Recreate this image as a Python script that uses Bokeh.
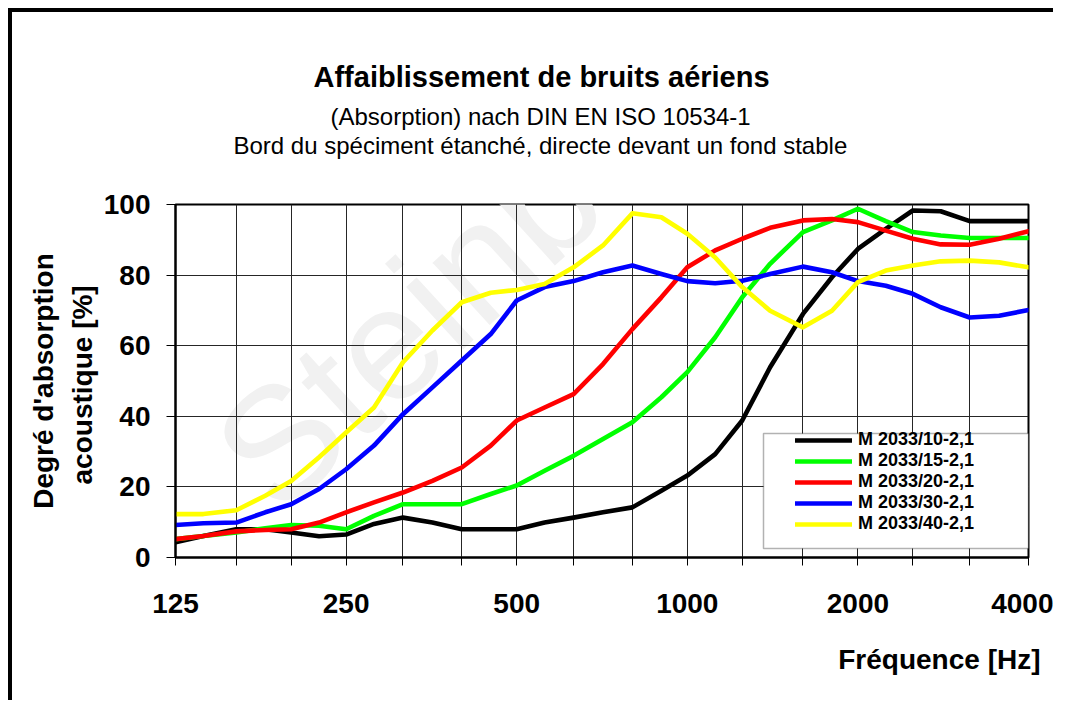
from bokeh.plotting import figure
from bokeh.models import FixedTicker, Label, BoxAnnotation, Legend, LegendItem, Title
from bokeh.embed import file_html
from bokeh.resources import INLINE

# ---- data ----
freq = [125, 140, 160, 180, 200, 224, 250, 280, 315, 355, 400, 450, 500, 560, 630,
        710, 800, 900, 1000, 1120, 1250, 1400, 1600, 1800, 2000, 2240, 2500, 2800,
        3150, 3550, 4000]
m10 = [4.3, 6.1, 8.0, 8.0, 7.1, 6.0, 6.5, 9.5, 11.3, 9.9, 8.0, 8.0, 8.0, 9.9, 11.3,
       12.8, 14.2, 18.9, 23.2, 29.3, 38.8, 53.9, 69.0, 79.4, 87.4, 93.1, 98.3, 98.1,
       95.3, 95.3, 95.3]
m15 = [5.2, 6.1, 7.1, 8.3, 9.2, 9.0, 8.0, 11.8, 15.1, 15.1, 15.1, 18.0, 20.4, 24.6, 28.8,
       33.6, 38.3, 45.4, 52.5, 62.4, 73.7, 83.2, 92.2, 95.5, 98.8, 95.3, 92.2, 91.2,
       90.5, 90.5, 90.5]
m20 = [5.2, 6.1, 7.4, 7.8, 8.0, 9.9, 12.8, 15.6, 18.4, 21.7, 25.5, 31.7, 38.8, 42.5, 46.3,
       54.8, 64.7, 73.7, 82.2, 87.0, 90.3, 93.4, 95.5, 95.9, 95.0, 92.6, 90.3, 88.7,
       88.6, 90.3, 92.4]
m30 = [9.2, 9.7, 9.9, 12.8, 15.1, 19.4, 25.0, 31.7, 40.6, 48.2, 55.8, 63.3, 72.8, 76.6, 78.3,
       80.8, 82.7, 80.3, 78.3, 77.7, 78.4, 80.3, 82.4, 80.8, 78.3, 77.0, 74.7, 70.9,
       68.0, 68.5, 70.1]
m40 = [12.3, 12.3, 13.4, 17.5, 21.7, 28.4, 35.4, 42.5, 55.3, 64.3, 72.3, 75.0, 75.8, 77.5, 82.2,
       88.4, 97.5, 96.4, 91.7, 85.0, 76.6, 69.9, 65.2, 69.9, 78.0, 81.3, 82.7, 83.9,
       84.1, 83.6, 82.2]

series_names = ["M 2033/10-2,1", "M 2033/15-2,1", "M 2033/20-2,1", "M 2033/30-2,1", "M 2033/40-2,1"]
series_values = [m10, m15, m20, m30, m40]
series_colors = ["#000000", "#00ff00", "#ff0000", "#0000ff", "#ffff00"]

x_ticks = [125, 160, 200, 250, 315, 400, 500, 630, 800, 1000, 1250, 1600, 2000, 2500, 3150, 4000]
x_tick_labels = ["125", "", "", "250", "", "", "500", "", "", "1000", "", "", "2000", "", "", "4000"]
y_ticks = [0, 20, 40, 60, 80, 100]

title = "Affaiblissement de bruits aériens"
subtitle1 = "(Absorption) nach DIN EN ISO 10534-1"
subtitle2 = "Bord du spéciment étanché, directe devant un fond stable"
x_title = "Fréquence [Hz]"
y_title = "Degré d'absorption\nacoustique  [%]"
watermark = "Steinbach"

FONT = "Liberation Sans"

# ---- figure ----
W, H = 1045, 692
ML, MR, MT, MB = 163, 29, 192, 147
FW, FH = W - ML - MR, H - MT - MB

p = figure(width=W, height=H, x_axis_type="log", x_range=(125, 4000), y_range=(0, 100),
           output_backend="svg", toolbar_location=None,
           min_border_left=ML, min_border_right=MR, min_border_top=MT, min_border_bottom=MB)
p.styles = {"border-left": "4px solid black", "border-top": "4px solid black",
            "margin-left": "8px", "margin-top": "8px"}
p.background_fill_color = "white"
p.border_fill_color = "white"
p.outline_line_color = "black"
p.outline_line_width = 2

# axes
for ax in (p.xaxis[0], p.yaxis[0]):
    ax.axis_line_color = "black"
    ax.axis_line_width = 2
    ax.major_tick_line_color = "black"
    ax.major_tick_line_width = 1
    ax.major_tick_in = 0
    ax.minor_tick_line_color = None
    ax.major_label_text_font = FONT
    ax.major_label_text_font_style = "bold"
    ax.major_label_text_font_size = "28px"
    ax.major_label_text_color = "black"

p.xaxis.ticker = FixedTicker(ticks=x_ticks)
p.xaxis.major_label_overrides = {t: lab for t, lab in zip(x_ticks, x_tick_labels)}
p.xaxis.major_tick_out = 8
p.xaxis.major_label_standoff = 28

p.yaxis.ticker = FixedTicker(ticks=y_ticks)
p.yaxis.major_tick_out = 9
p.yaxis.major_label_standoff = 16
p.yaxis.axis_label = y_title
p.yaxis.axis_label_text_font = FONT
p.yaxis.axis_label_text_font_style = "bold"
p.yaxis.axis_label_text_font_size = "28px"
p.yaxis.axis_label_text_line_height = 1.25
p.yaxis.axis_label_standoff = 3
p.yaxis.axis_label_text_color = "black"

p.xgrid.ticker = FixedTicker(ticks=x_ticks)
p.ygrid.ticker = FixedTicker(ticks=y_ticks)
for g in (p.xgrid[0], p.ygrid[0]):
    g.grid_line_color = "#262626"
    g.grid_line_width = 1

# watermark (behind grid and curves)
p.add_layout(Label(x=65, y=80, x_units="screen", y_units="screen", text=watermark,
                   angle=0.74, text_align="left", text_baseline="alphabetic",
                   text_font=FONT, text_font_size="160px", text_color="#f1f1f1",
                   level="image"))

# lines
items = []
for name, vals, col in zip(series_names, series_values, series_colors):
    r = p.line(freq, vals, line_color=col, line_width=4.6, line_join="round", line_cap="round")
    items.append(LegendItem(label=name, renderers=[r]))

# legend frame + legend
box = BoxAnnotation(left=FW - 265, right=FW, bottom=9, top=124,
                    left_units="screen", right_units="screen",
                    bottom_units="screen", top_units="screen",
                    fill_color="white", fill_alpha=1.0,
                    line_color="black", line_width=1.5)
p.add_layout(box)

legend = Legend(items=items, location=(FW - 241, 15),
                glyph_width=57, glyph_height=18, label_height=18, label_width=164,
                spacing=-2, padding=8, margin=0, label_standoff=6,
                label_text_font=FONT, label_text_font_style="bold",
                label_text_font_size="18px",
                label_text_color="black",
                border_line_alpha=0, background_fill_alpha=0)
p.add_layout(legend)

# titles (stacked outward from the frame)
def ttl(text, size, style, offset, standoff, align="left"):
    return Title(text=text, align=align, offset=offset, standoff=standoff,
                 text_font=FONT, text_font_size=size, text_font_style=style,
                 text_color="black")

p.add_layout(ttl(" ", "1px", "normal", 0, 43), "above")          # spacer
p.add_layout(ttl(subtitle2, "24px", "normal", 58, 0), "above")
p.add_layout(ttl(subtitle1, "24px", "normal", 155, 0), "above")
p.add_layout(ttl(title, "29px", "bold", 138, 16), "above")

p.add_layout(ttl(" ", "1px", "normal", 0, 23), "below")          # spacer
p.add_layout(ttl(x_title, "28px", "bold", -12, 0, align="right"), "below")

open("out.html", "w").write(file_html(p, INLINE))
